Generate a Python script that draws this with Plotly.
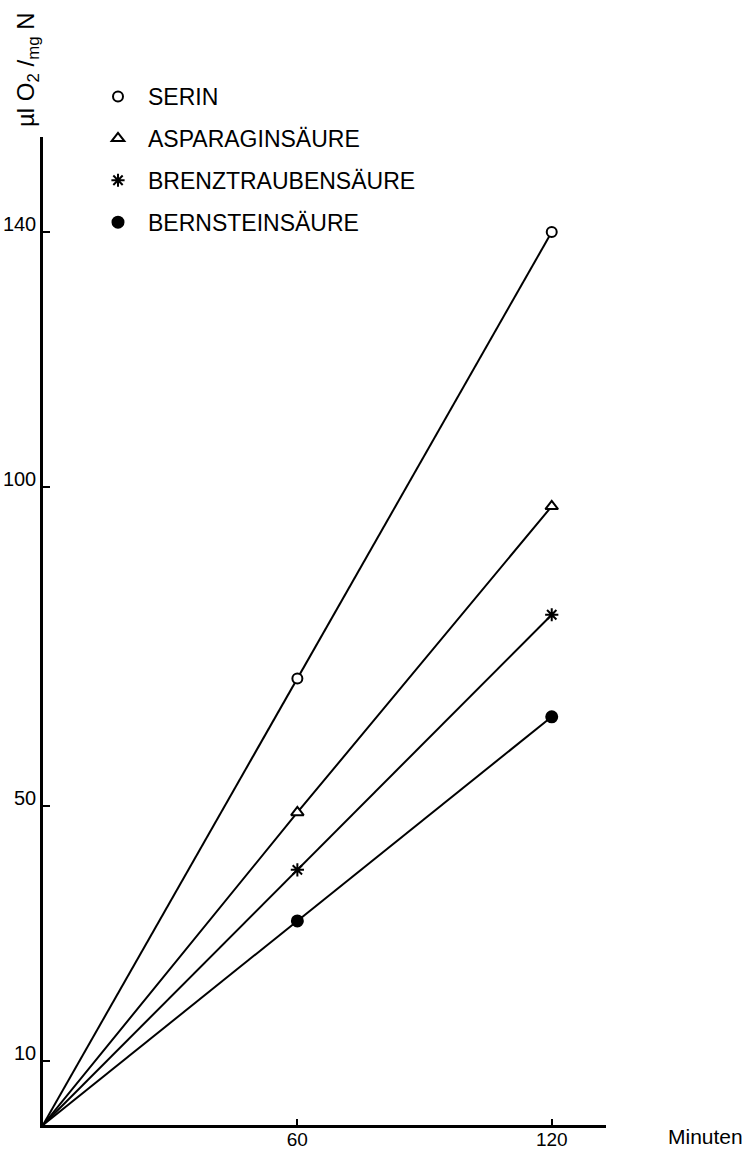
import plotly.graph_objects as go

# Oxygen uptake (µl O2 per mg N) after 0, 60 and 120 minutes
minutes = [0, 60, 120]
substrates = ["SERIN", "ASPARAGINSÄURE", "BRENZTRAUBENSÄURE", "BERNSTEINSÄURE"]
serin = [0, 70, 140]
asparaginsaeure = [0, 49, 97]
brenztraubensaeure = [0, 40, 80]
bernsteinsaeure = [0, 32, 64]
y_ticks = [10, 50, 100, 140]
x_ticks = [60, 120]

series = [serin, asparaginsaeure, brenztraubensaeure, bernsteinsaeure]
symbols = ["circle", "triangle-up", "asterisk-open", "circle"]
fills = ["white", "white", "black", "black"]
sizes = [10, 11, 11, 11]

FONT = "Liberation Sans"
W, H = 755, 1151
L, R, T, B = 43, 149, 137, 26
plot_w, plot_h = W - L - R, H - T - B


def px_x(p):
    return (p - L) / plot_w


def px_y(p):
    return (H - B - p) / plot_h


fig = go.Figure()

# straight lines from the origin through both readings
for vals in series:
    fig.add_trace(go.Scatter(
        x=minutes, y=vals, mode="lines",
        line=dict(color="black", width=2),
        showlegend=False, hoverinfo="skip",
    ))

# measurement markers (also used as legend entries)
for name, vals, sym, fc, sz in zip(substrates, series, symbols, fills, sizes):
    fig.add_trace(go.Scatter(
        x=minutes[1:], y=vals[1:], mode="markers", name=name,
        legendgroup=name,
        marker=dict(symbol=sym, size=sz, color=fc,
                    line=dict(color="black", width=2)),
    ))

fig.update_layout(
    width=W, height=H,
    margin=dict(l=L, r=R, t=T, b=B, pad=0),
    paper_bgcolor="white", plot_bgcolor="white",
    font=dict(family=FONT, color="black", size=20),
    showlegend=True,
    legend=dict(
        x=px_x(88), xanchor="left", y=px_y(75), yanchor="top",
        traceorder="grouped", tracegroupgap=9, itemwidth=50,
        font=dict(family=FONT, size=23, color="black"),
        bgcolor="rgba(0,0,0,0)", borderwidth=0,
        itemclick=False, itemdoubleclick=False,
    ),
    xaxis=dict(
        range=[0, 132.8], showgrid=False, zeroline=False,
        showline=True, linecolor="black", linewidth=2.5,
        tickmode="array", tickvals=x_ticks,
        ticks="inside", ticklen=6, tickwidth=2, tickcolor="black",
        tickfont=dict(family=FONT, size=19), ticklabelstandoff=-5,
        automargin=False,
    ),
    yaxis=dict(
        range=[0, 154.9], showgrid=False, zeroline=False,
        showline=True, linecolor="black", linewidth=2.5,
        tickmode="array", tickvals=y_ticks,
        ticks="inside", ticklen=7, tickwidth=2, tickcolor="black",
        tickfont=dict(family=FONT, size=20),
        ticklabelshift=-8, ticklabelstandoff=0, automargin=False,
    ),
    annotations=[
        dict(text="µl O<sub>2</sub> /<sub>mg</sub> N", textangle=-90,
             xref="paper", yref="paper", x=px_x(27), y=px_y(70),
             xanchor="center", yanchor="middle", showarrow=False,
             font=dict(family=FONT, size=24, color="black")),
        dict(text="Minuten", xref="paper", yref="paper",
             x=px_x(705), y=px_y(1136), xanchor="center", yanchor="middle",
             showarrow=False, font=dict(family=FONT, size=21, color="black")),
    ],
)

fig.write_html("out.html")
